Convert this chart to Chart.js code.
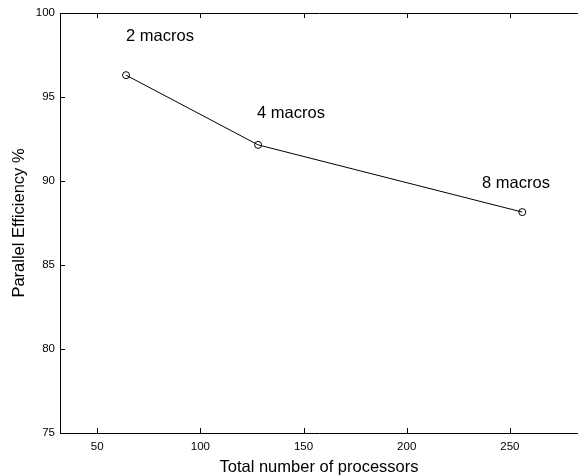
<!DOCTYPE html>
<html>
<head>
<meta charset="utf-8">
<title>Parallel Efficiency</title>
<script src="https://cdn.jsdelivr.net/npm/chart.js@4.4.1/dist/chart.umd.min.js"></script>
<style>
    html, body { margin: 0; padding: 0; background: #fff; }
    #wrap { width: 578px; height: 475px; }
</style>
</head>
<body>
<div id="wrap"><canvas id="effChart" width="578" height="475"></canvas></div>
<script>
// ============================================
// DATA
// ============================================
const processors = [64, 128, 256];
const efficiency = [96.3, 92.15, 88.15];

const xTickValues = [50, 100, 150, 200, 250];
const yTickValues = [75, 80, 85, 90, 95, 100];

// annotation text and its anchor (data units)
const noteLabels = ['2 macros', '4 macros', '8 macros'];
const noteX = [64, 127.5, 236.5];
const noteY = [98.6, 94.0, 89.85];

/**
 * Frame + inward ticks (MATLAB style) and the text notes
 */
const framePlugin = {
    id: 'frame',
    afterDraw(chart) {
        const ctx = chart.ctx;
        const { left, right, top, bottom } = chart.chartArea;
        const xs = chart.scales.x;
        const ys = chart.scales.y;
        const len = 5;

        ctx.save();
        ctx.strokeStyle = '#000';
        ctx.lineWidth = 1;
        ctx.beginPath();
        // left, top, bottom edges (right edge is off the picture)
        ctx.moveTo(left + 0.5, top + 0.5);
        ctx.lineTo(left + 0.5, bottom + 0.5);
        ctx.moveTo(left, top + 0.5);
        ctx.lineTo(right + 5, top + 0.5);
        ctx.moveTo(left, bottom + 0.5);
        ctx.lineTo(right + 5, bottom + 0.5);

        xTickValues.forEach(v => {
            const px = Math.round(xs.getPixelForValue(v)) + 0.5;
            ctx.moveTo(px, bottom);
            ctx.lineTo(px, bottom - len);
            ctx.moveTo(px, top);
            ctx.lineTo(px, top + len);
        });
        yTickValues.forEach(v => {
            const py = Math.round(ys.getPixelForValue(v)) + 0.5;
            ctx.moveTo(left, py);
            ctx.lineTo(left + len, py);
        });
        ctx.stroke();

        // notes
        ctx.fillStyle = '#000';
        ctx.font = '16.5px "Liberation Sans", Arial, sans-serif';
        ctx.textAlign = 'left';
        ctx.textBaseline = 'middle';
        noteLabels.forEach((txt, i) => {
            ctx.fillText(txt, xs.getPixelForValue(noteX[i]), ys.getPixelForValue(noteY[i]));
        });
        ctx.restore();
    }
};

const tickFont = { family: '"Liberation Sans", Arial, sans-serif', size: 11.5 };
const titleFont = { family: '"Liberation Sans", Arial, sans-serif', size: 16.5, lineHeight: 1.1 };

new Chart(document.getElementById('effChart'), {
    type: 'line',
    data: {
        datasets: [{
            label: 'Parallel Efficiency',
            data: processors.map((p, i) => ({ x: p, y: efficiency[i] })),
            borderColor: '#000',
            borderWidth: 1,
            backgroundColor: '#fff',
            pointRadius: 3.5,
            pointBorderWidth: 1,
            pointBorderColor: '#000',
            pointBackgroundColor: 'rgba(255,255,255,0)',
            tension: 0,
            fill: false
        }]
    },
    options: {
        responsive: false,
        animation: false,
        events: [],
        layout: { autoPadding: false, padding: { top: 13, right: 0, left: 0, bottom: 0 } },
        plugins: {
            legend: { display: false },
            tooltip: { enabled: false }
        },
        scales: {
            x: {
                type: 'linear',
                min: 32,
                max: 283,
                afterBuildTicks: s => { s.ticks = xTickValues.map(v => ({ value: v })); },
                afterFit: s => { s.height = 42; },
                grid: { display: false, drawTicks: false },
                border: { display: false },
                ticks: { color: '#000', font: tickFont, padding: 7, maxRotation: 0 },
                title: {
                    display: true,
                    text: 'Total number of processors',
                    color: '#000',
                    font: titleFont,
                    padding: { top: 0, bottom: -2 }
                }
            },
            y: {
                type: 'linear',
                min: 75,
                max: 100,
                afterBuildTicks: s => { s.ticks = yTickValues.map(v => ({ value: v })); },
                afterFit: s => { s.width = 60; },
                grid: { display: false, drawTicks: false },
                border: { display: false },
                ticks: { color: '#000', font: tickFont, padding: 5 },
                title: {
                    display: true,
                    text: 'Parallel Efficiency %',
                    color: '#000',
                    font: titleFont,
                    padding: { top: 10, bottom: 0 }
                }
            }
        }
    },
    plugins: [framePlugin]
});
</script>
</body>
</html>
